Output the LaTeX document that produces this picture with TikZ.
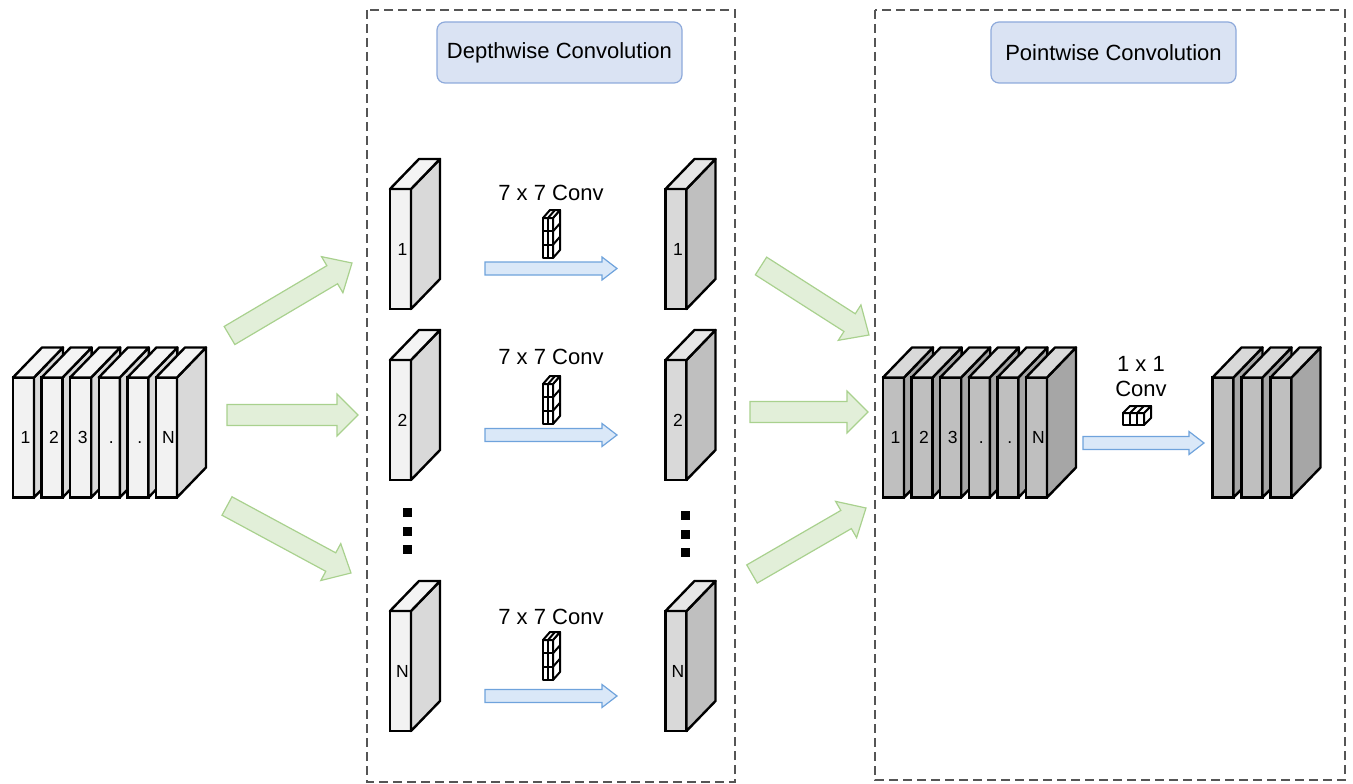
\documentclass[tikz,border=0pt]{standalone}
\usepackage{fontspec}
\setmainfont{Liberation Sans}
\usetikzlibrary{calc}

\definecolor{inFront}{HTML}{F2F2F2}
\definecolor{inSide}{HTML}{D9D9D9}
\definecolor{inTop}{HTML}{F4F4F4}
\definecolor{dwFront}{HTML}{D9D9D9}
\definecolor{dwSide}{HTML}{BFBFBF}
\definecolor{dwTop}{HTML}{E6E6E6}
\definecolor{pwFront}{HTML}{BFBFBF}
\definecolor{pwSide}{HTML}{A6A6A6}
\definecolor{pwTop}{HTML}{D9D9D9}
\definecolor{titleFill}{HTML}{DAE3F3}
\definecolor{titleLine}{HTML}{8EAADB}
\definecolor{greenFill}{HTML}{E2EFD9}
\definecolor{greenLine}{HTML}{A9D18E}
\definecolor{blueFill}{HTML}{DAE8F8}
\definecolor{blueLine}{HTML}{6FA3DC}
\definecolor{boxLine}{HTML}{555555}

\tikzset{
  slabfront/.style={draw, line width=2.4pt, inner sep=0pt, outer sep=0pt,
    minimum width=21pt, minimum height=120pt,
    font=\fontsize{17.5}{17.5}\selectfont},
  face/.style={draw, line width=2.4pt, line join=round},
  kern/.style={draw, fill=white, line width=2pt, line join=round},
  titlebox/.style={draw=titleLine, fill=titleFill, line width=1.2pt,
    rounded corners=8pt, minimum width=245pt, minimum height=61pt,
    font=\fontsize{22}{26}\selectfont},
  convlbl/.style={font=\fontsize{22}{25}\selectfont, align=center, inner sep=0pt},
  groupbox/.style={draw=boxLine, line width=1.1pt, dash pattern=on 9pt off 5pt},
  greenarrow/.style={draw=greenLine, fill=greenFill, line width=1.2pt, line join=miter},
  bluearrow/.style={draw=blueLine, fill=blueFill, line width=1.2pt, line join=miter},
  dotsq/.style={fill=black, inner sep=0pt, minimum size=9pt}
}

% one 3-D feature map: front face node plus side and top faces
\newcommand\slab[6]{%
  \node[slabfront, fill=#4] (#1) at (#2) {\hspace*{4pt}\vphantom{N}#3};
  \filldraw[face, fill=#5] (#1.north east) -- ++(29,-30) -- ++(0,120) -- (#1.south east) -- cycle;
  \filldraw[face, fill=#6] (#1.north west) -- ++(29,-30) -- ++(21,0) -- (#1.north east) -- cycle;
}

% block arrow from #2 to #3; #4 half body width, #5 half head width, #6 head length
\newcommand\fatarrow[6]{%
  \coordinate (hb) at ($(#3)!#6!(#2)$);
  \filldraw[#1] ($(#2)!#4!90:(#3)$) -- ($(hb)!#4!90:(#3)$) -- ($(hb)!#5!90:(#3)$)
    -- (#3) -- ($(hb)!#5!-90:(#3)$) -- ($(hb)!#4!-90:(#3)$) -- ($(#2)!#4!-90:(#3)$) -- cycle;
}

% 7x7 kernel icon, front face top-left at (#1,#2)
\newcommand\kernelsev[2]{%
  \begin{scope}[shift={(#1,#2)}]
    \filldraw[kern] (0,0) rectangle (10,40);
    \filldraw[kern] (10,0) -- (17,-8) -- (17,32) -- (10,40) -- cycle;
    \filldraw[kern] (0,0) -- (7,-8) -- (17,-8) -- (10,0) -- cycle;
    \draw[kern] (5,0) -- (5,40) (0,13.3) -- (10,13.3) (0,26.7) -- (10,26.7);
    \draw[kern] (10,13.3) -- (17,5.3) (10,26.7) -- (17,18.7);
    \draw[kern] (5,0) -- (12,-8);
  \end{scope}
}

% 1x1 kernel icon, front face top-left at (#1,#2)
\newcommand\kernelone[2]{%
  \begin{scope}[shift={(#1,#2)}]
    \filldraw[kern] (0,0) rectangle (21,12);
    \filldraw[kern] (21,0) -- (28,-7) -- (28,5) -- (21,12) -- cycle;
    \filldraw[kern] (0,0) -- (7,-7) -- (28,-7) -- (21,0) -- cycle;
    \draw[kern] (7,0) -- (7,12) (14,0) -- (14,12);
    \draw[kern] (7,0) -- (14,-7) (14,0) -- (21,-7);
  \end{scope}
}

\begin{document}
\begin{tikzpicture}[x=1pt, y=-1pt]
\useasboundingbox (0,0) rectangle (1353,784);

% group frames
\draw[groupbox] (367,10) rectangle (735,782);
\draw[groupbox] (875,10) rectangle (1345,780);

% titles
\node[titlebox] (tdw) at (559.5,52.5) {Depthwise Convolution};
\node[titlebox] (tpw) at (1113.5,52.5) {Pointwise Convolution};

% input stack
\slab{in1}{23.5,437.5}{1}{inFront}{inSide}{inTop}
\slab{in2}{52.1,437.5}{2}{inFront}{inSide}{inTop}
\slab{in3}{80.7,437.5}{3}{inFront}{inSide}{inTop}
\slab{in4}{109.3,437.5}{.}{inFront}{inSide}{inTop}
\slab{in5}{137.9,437.5}{.}{inFront}{inSide}{inTop}
\slab{in6}{166.5,437.5}{N}{inFront}{inSide}{inTop}

% depthwise: separated channels
\slab{da1}{400.5,249}{1}{inFront}{inSide}{inTop}
\slab{da2}{400.5,420}{2}{inFront}{inSide}{inTop}
\slab{daN}{400.5,671}{N}{inFront}{inSide}{inTop}

% depthwise: filtered channels
\slab{db1}{676,249}{1}{dwFront}{dwSide}{dwTop}
\slab{db2}{676,420}{2}{dwFront}{dwSide}{dwTop}
\slab{dbN}{676,671}{N}{dwFront}{dwSide}{dwTop}

% ellipsis dots
\node[dotsq] (dl1) at (407.5,512.5) {};
\node[dotsq] (dl2) at (407.5,531.5) {};
\node[dotsq] (dl3) at (407.5,549.5) {};
\node[dotsq] (dr1) at (685.5,515.5) {};
\node[dotsq] (dr2) at (685.5,534.5) {};
\node[dotsq] (dr3) at (685.5,552.5) {};

% per-channel 7x7 convolutions
\node[convlbl] (c1) at (551,193) {7 x 7 Conv};
\node[convlbl] (c2) at (551,357) {7 x 7 Conv};
\node[convlbl] (cN) at (551,617) {7 x 7 Conv};
\kernelsev{543}{218}
\kernelsev{543}{384}
\kernelsev{543}{640}
\coordinate (ba1t) at (485,268.5); \coordinate (ba1h) at (617,268.5);
\coordinate (ba2t) at (485,435);   \coordinate (ba2h) at (617,435);
\coordinate (baNt) at (485,696);   \coordinate (baNh) at (617,696);
\fatarrow{bluearrow}{ba1t}{ba1h}{6.5pt}{11.5pt}{15pt}
\fatarrow{bluearrow}{ba2t}{ba2h}{6.5pt}{11.5pt}{15pt}
\fatarrow{bluearrow}{baNt}{baNh}{6.5pt}{11.5pt}{15pt}

% pointwise input stack
\slab{pa1}{893.5,437.5}{1}{pwFront}{pwSide}{pwTop}
\slab{pa2}{922.1,437.5}{2}{pwFront}{pwSide}{pwTop}
\slab{pa3}{950.7,437.5}{3}{pwFront}{pwSide}{pwTop}
\slab{pa4}{979.3,437.5}{.}{pwFront}{pwSide}{pwTop}
\slab{pa5}{1007.9,437.5}{.}{pwFront}{pwSide}{pwTop}
\slab{pa6}{1036.5,437.5}{N}{pwFront}{pwSide}{pwTop}

% pointwise output stack
\slab{po1}{1223,437.5}{}{pwFront}{pwSide}{pwTop}
\slab{po2}{1252,437.5}{}{pwFront}{pwSide}{pwTop}
\slab{po3}{1281,437.5}{}{pwFront}{pwSide}{pwTop}

% 1x1 convolution
\node[convlbl] (c11) at (1141,377) {1 x 1\\Conv};
\kernelone{1123}{413}
\coordinate (bpt) at (1083,443); \coordinate (bph) at (1204,443);
\fatarrow{bluearrow}{bpt}{bph}{6.5pt}{11.5pt}{15pt}

% split arrows into the depthwise stage
\coordinate (ga1t) at (229.5,335.5); \coordinate (ga1h) at (352,263);
\coordinate (ga2t) at (227,415);     \coordinate (ga2h) at (358,415);
\coordinate (ga3t) at (227,506);     \coordinate (ga3h) at (351,573);
\fatarrow{greenarrow}{ga1t}{ga1h}{10.5pt}{21pt}{23pt}
\fatarrow{greenarrow}{ga2t}{ga2h}{10.5pt}{21pt}{21pt}
\fatarrow{greenarrow}{ga3t}{ga3h}{10.5pt}{21pt}{23pt}

% merge arrows into the pointwise stage
\coordinate (gb1t) at (761,266); \coordinate (gb1h) at (869,335);
\coordinate (gb2t) at (750,412); \coordinate (gb2h) at (868,412);
\coordinate (gb3t) at (752,574); \coordinate (gb3h) at (866,508);
\fatarrow{greenarrow}{gb1t}{gb1h}{10.5pt}{21pt}{23pt}
\fatarrow{greenarrow}{gb2t}{gb2h}{10.5pt}{21pt}{21pt}
\fatarrow{greenarrow}{gb3t}{gb3h}{10.5pt}{21pt}{23pt}
\end{tikzpicture}
\end{document}
